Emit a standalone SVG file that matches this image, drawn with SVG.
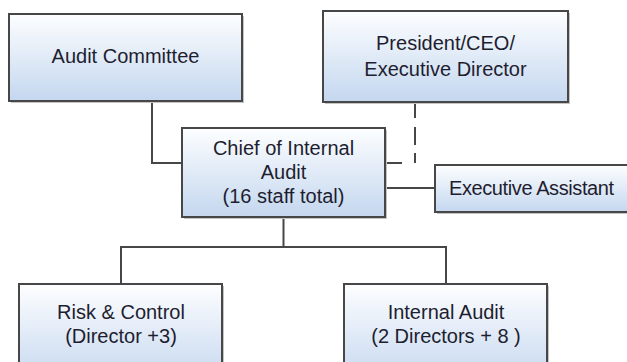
<svg xmlns="http://www.w3.org/2000/svg" width="627" height="362" viewBox="0 0 627 362">
  <defs>
    <linearGradient id="boxFill" x1="0" y1="0" x2="0" y2="1">
      <stop offset="0" stop-color="#fdfeff"/>
      <stop offset="1" stop-color="#c4d7ef"/>
    </linearGradient>
  </defs>
  <style>
    .shadow { fill: #c4c4c4; }
    .box { fill: url(#boxFill); stroke: #474747; stroke-width: 2; }
    .label { font-family: "Liberation Sans", Arial, sans-serif; font-size: 20px; fill: #1e1e30; text-anchor: middle; }
    .link { fill: none; stroke: #474747; stroke-width: 2; }
  </style>
  <rect width="627" height="362" fill="#ffffff"/>

  <!-- connectors -->
  <g id="connectors">
    <path class="link" d="M152 101 V163 H182"/>
    <path class="link" d="M385 188 H435"/>
    <path class="link" d="M283.5 217 V247 M121 284 V247 H446 V284"/>
    <!-- dotted reporting line to the President -->
    <path class="link" d="M385 163 H402 M415 102 V118 M415 127 V145 M415 153 V163"/>
  </g>

  <g id="audit-committee">
    <rect class="shadow" x="11" y="16" width="233" height="87"/>
    <rect class="box" x="9" y="14" width="233" height="87"/>
    <text class="label" x="125.5" y="63">Audit Committee</text>
  </g>

  <g id="president">
    <rect class="shadow" x="325" y="13" width="245" height="91"/>
    <rect class="box" x="323" y="11" width="245" height="91"/>
    <text class="label" x="445.5" y="50">President/CEO/</text>
    <text class="label" x="445.5" y="76">Executive Director</text>
  </g>

  <g id="chief">
    <rect class="shadow" x="184" y="130" width="203" height="89"/>
    <rect class="box" x="182" y="128" width="203" height="89"/>
    <text class="label" x="283.5" y="155">Chief of Internal</text>
    <text class="label" x="283.5" y="179">Audit</text>
    <text class="label" x="283.5" y="203">(16 staff total)</text>
  </g>

  <g id="executive-assistant">
    <rect class="shadow" x="437" y="167" width="200" height="47"/>
    <rect class="box" x="435" y="165" width="200" height="47"/>
    <text class="label" x="449" y="195" style="text-anchor:start;letter-spacing:-0.4px">Executive Assistant</text>
  </g>

  <g id="risk-control">
    <rect class="shadow" x="21" y="286" width="203" height="100"/>
    <rect class="box" x="19" y="284" width="203" height="100"/>
    <text class="label" x="121" y="319">Risk &amp; Control</text>
    <text class="label" x="121" y="343">(Director +3)</text>
  </g>

  <g id="internal-audit">
    <rect class="shadow" x="346" y="286" width="203" height="100"/>
    <rect class="box" x="344" y="284" width="203" height="100"/>
    <text class="label" x="446" y="319">Internal Audit</text>
    <text class="label" x="446" y="343">(2 Directors + 8 )</text>
  </g>
</svg>
